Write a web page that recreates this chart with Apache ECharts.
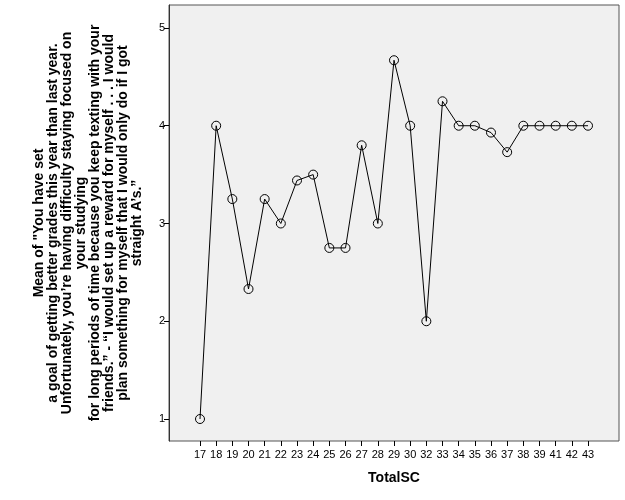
<!DOCTYPE html>
<html>
<head>
<meta charset="utf-8">
<script src="https://cdn.jsdelivr.net/npm/echarts@6/dist/echarts.min.js"></script>
<style>
  html, body { margin: 0; padding: 0; background: #fff; }
  #chart { width: 625px; height: 500px; }
</style>
</head>
<body>
<div id="chart"></div>
<script>
// TotalSC vs mean response, SPSS-style line chart
const totalSC = ['17', '18', '19', '20', '21', '22', '23', '24', '25', '26', '27', '28', '29',
  '30', '32', '33', '34', '35', '36', '37', '38', '39', '41', '42', '43'];
const meanValues = [1, 4, 3.25, 2.33, 3.25, 3, 3.44, 3.5, 2.75, 2.75, 3.8, 3, 4.67,
  4, 2, 4.25, 4, 4, 3.93, 3.73, 4, 4, 4, 4, 4];
const yTicks = [1, 2, 3, 4, 5];

const yName = [
  'Mean of "You have set',
  'a goal of getting better grades this year than last year.',
  'Unfortunately, you\u2019re having difficulty staying focused on',
  'your studying',
  'for long periods of time because you keep texting with your',
  'friends.\u201d - \u201cI would set up a reward for myself . . . I would',
  'plan something for myself that I would only do if I got',
  'straight A\u2019s.\u201d',
].join('\n');

const FONT = '"Liberation Sans", Arial, sans-serif';
const chart = echarts.init(document.getElementById('chart'), null, { renderer: 'canvas' });

chart.setOption({
  animation: false,
  grid: [
    // outer frame (grey plot background)
    { left: 169, right: 6, top: 5, bottom: 59, show: true,
      backgroundColor: '#f0f0f0', borderColor: '#555', borderWidth: 1 },
    // inner data area, points inset from the frame
    { left: 200, right: 37, top: 5, bottom: 59 },
  ],
  xAxis: [
    { gridIndex: 0, type: 'value', show: false },
    {
      gridIndex: 1, type: 'category', data: totalSC, boundaryGap: false,
      name: 'TotalSC', nameLocation: 'middle', nameGap: 30,
      nameTextStyle: { fontFamily: FONT, fontSize: 14, fontWeight: 'bold', color: '#000' },
      axisLine: { show: false },
      axisTick: { show: true, length: 5, alignWithLabel: true, lineStyle: { color: '#000' } },
      axisLabel: { interval: 0, margin: 8, fontFamily: FONT, fontSize: 11, color: '#000' },
      splitLine: { show: false },
    },
  ],
  yAxis: [
    { gridIndex: 0, type: 'value', show: false },
    {
      gridIndex: 1, type: 'value', min: 0.775, max: 5.235, offset: 31,
      name: yName, nameLocation: 'middle', nameRotate: 90, nameGap: 25,
      nameTextStyle: { fontFamily: FONT, fontSize: 14, fontWeight: 'bold', color: '#000',
        lineHeight: 14, align: 'center' },
      axisLine: { show: true, lineStyle: { color: '#333' } },
      axisTick: { show: true, length: 5, customValues: yTicks, lineStyle: { color: '#000' } },
      axisLabel: { customValues: yTicks, margin: 4, fontFamily: FONT, fontSize: 11, color: '#000' },
      splitLine: { show: false },
    },
  ],
  series: [{
    type: 'line', xAxisIndex: 1, yAxisIndex: 1, data: meanValues,
    symbol: 'circle', symbolSize: 9, showAllSymbol: true,
    lineStyle: { color: '#000', width: 1 },
    itemStyle: { color: 'rgba(0,0,0,0)', borderColor: '#000', borderWidth: 1 },
  }],
});
</script>
</body>
</html>
